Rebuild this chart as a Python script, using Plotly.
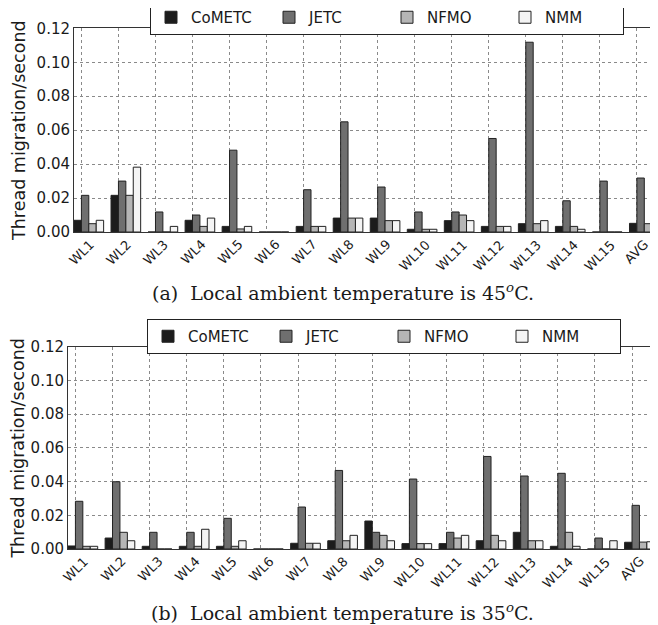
import plotly.graph_objects as go

categories = ["WL1", "WL2", "WL3", "WL4", "WL5", "WL6", "WL7", "WL8",
              "WL9", "WL10", "WL11", "WL12", "WL13", "WL14", "WL15", "AVG"]
series_names = ["CoMETC", "JETC", "NFMO", "NMM"]

# (a) 45 C
cometc_45 = [0.0069, 0.0216, 0.0, 0.0069, 0.0033, 0.0, 0.0033, 0.0082,
             0.0082, 0.0016, 0.0067, 0.0033, 0.0049, 0.0033, 0.0, 0.0051]
jetc_45 = [0.0216, 0.0300, 0.0118, 0.0100, 0.0482, 0.0, 0.0249, 0.0649,
           0.0265, 0.0118, 0.0118, 0.0551, 0.1118, 0.0184, 0.0300, 0.0318]
nfmo_45 = [0.0049, 0.0216, 0.0, 0.0033, 0.0018, 0.0, 0.0033, 0.0082,
           0.0067, 0.0016, 0.0100, 0.0033, 0.0049, 0.0033, 0.0, 0.0049]
nmm_45 = [0.0069, 0.0382, 0.0033, 0.0082, 0.0033, 0.0, 0.0033, 0.0082,
          0.0067, 0.0016, 0.0067, 0.0033, 0.0067, 0.0016, 0.0, 0.0067]

# (b) 35 C
cometc_35 = [0.0018, 0.0065, 0.0016, 0.0016, 0.0016, 0.0, 0.0034, 0.0049,
             0.0166, 0.0032, 0.0032, 0.0049, 0.0099, 0.0016, 0.0, 0.0040]
jetc_35 = [0.0283, 0.0399, 0.0099, 0.0099, 0.0182, 0.0, 0.0249, 0.0466,
           0.0099, 0.0415, 0.0099, 0.0549, 0.0433, 0.0449, 0.0065, 0.0259]
nfmo_35 = [0.0016, 0.0099, 0.0, 0.0016, 0.0016, 0.0, 0.0034, 0.0049,
           0.0081, 0.0032, 0.0065, 0.0081, 0.0049, 0.0099, 0.0, 0.0041]
nmm_35 = [0.0016, 0.0049, 0.0, 0.0117, 0.0049, 0.0, 0.0034, 0.0081,
          0.0049, 0.0032, 0.0081, 0.0049, 0.0049, 0.0016, 0.0049, 0.0043]

y_ticks = [0.00, 0.02, 0.04, 0.06, 0.08, 0.10, 0.12]
captions = ["(a)  Local ambient temperature is 45<sup><i>o</i></sup>C.",
            "(b)  Local ambient temperature is 35<sup><i>o</i></sup>C."]
colors = ["#1c1c1c", "#6f6f6f", "#b5b5b5", "#f4f4f4"]

idx = list(range(len(categories)))
tick_pos = [i - 0.2 for i in idx]

# page is drawn with an 8px body margin; figure sized to fit the window
OFF = 8
W, H = 658 - OFF, 625 - OFF


def px(xp):
    return (xp - OFF) / W


def py(yp):
    return 1 - (yp - OFF) / H


fig = go.Figure()

panels = [
    dict(data=[cometc_45, jetc_45, nfmo_45, nmm_45], xa="x", ya="y", legend="legend"),
    dict(data=[cometc_35, jetc_35, nfmo_35, nmm_35], xa="x2", ya="y2", legend="legend2"),
]
for p in panels:
    for name, vals, col in zip(series_names, p["data"], colors):
        fig.add_trace(go.Bar(
            x=idx, y=vals, name=name, xaxis=p["xa"], yaxis=p["ya"],
            marker=dict(color=col, line=dict(color="#222222", width=1)),
            legend=p["legend"], showlegend=True,
        ))

font_main = "DejaVu Sans"
axis_common = dict(showline=True, linecolor="#333333", linewidth=1, mirror=True,
                   showgrid=True, gridcolor="#8a8a8a", griddash="dot", gridwidth=1,
                   zeroline=False, ticks="", automargin=False)
legend_common = dict(orientation="h", xanchor="left", yanchor="middle",
                     bgcolor="white", bordercolor="#222222", borderwidth=1,
                     font=dict(size=15), itemwidth=30, entrywidth=73,
                     entrywidthmode="pixels")

fig.update_layout(
    template="none",
    width=W, height=H, margin=dict(l=0, r=0, t=0, b=0, autoexpand=False),
    paper_bgcolor="white", plot_bgcolor="white",
    barmode="group", bargap=0.2, bargroupgap=0,
    font=dict(family=font_main, color="#1a1a1a"),
    xaxis=dict(domain=[px(74), 1.0], range=[-0.4, 15.37], anchor="y",
               tickvals=tick_pos, showticklabels=False, **axis_common),
    yaxis=dict(domain=[py(232), py(28.3)], range=[0, 0.12], anchor="x",
               tickvals=y_ticks, tickformat=".2f", tickfont=dict(size=15),
               title=dict(text="Thread migration/second", font=dict(size=17.5), standoff=6),
               **axis_common),
    xaxis2=dict(domain=[px(68), 1.0], range=[-0.4, 15.5], anchor="y2",
                tickvals=tick_pos, showticklabels=False, **axis_common),
    yaxis2=dict(domain=[py(549), py(346.7)], range=[0, 0.12], anchor="x2",
                tickvals=y_ticks, tickformat=".2f", tickfont=dict(size=15),
                title=dict(text="Thread migration/second", font=dict(size=17.5), standoff=4),
                **axis_common),
    legend=dict(x=px(150), y=py(17.5), **legend_common),
    legend2=dict(x=px(147), y=py(336.5), **legend_common),
)

annotations = []
for xa, ybot in [("x", py(232)), ("x2", py(549))]:
    for cat, pos in zip(categories, tick_pos):
        annotations.append(dict(text=cat, x=pos, y=ybot, xref=xa, yref="paper",
                                xanchor="center", yanchor="top", textangle=-45,
                                showarrow=False, yshift=-2,
                                font=dict(size=13, family=font_main, color="#1a1a1a")))
for cap, yc in zip(captions, [py(292), py(612)]):
    annotations.append(dict(text=cap, x=px(343), y=yc, xref="paper", yref="paper",
                            xanchor="center", yanchor="middle", showarrow=False,
                            font=dict(size=19, family="DejaVu Serif", color="#1a1a1a")))
fig.update_layout(annotations=annotations)

fig.write_html("out.html")
